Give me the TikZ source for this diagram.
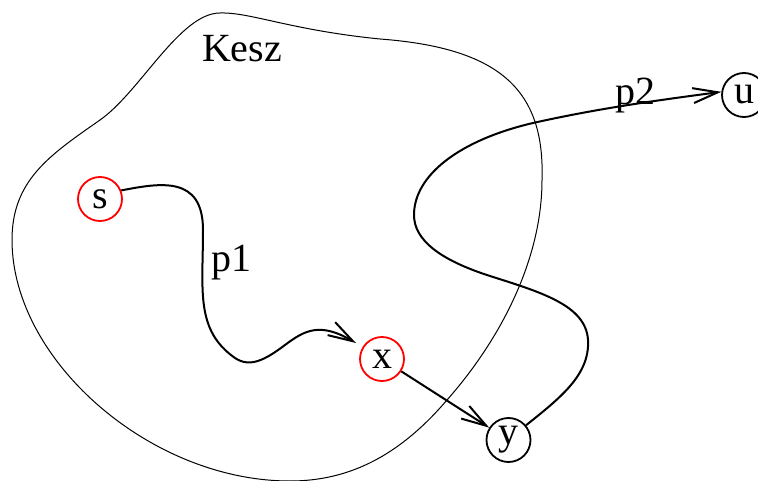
\documentclass[tikz,border=0pt]{standalone}
\usepackage{fontspec}
\setmainfont{Liberation Serif}
\usetikzlibrary{arrows.meta}
\begin{document}
\begin{tikzpicture}[x=1pt,y=-1pt,
  vert/.style={circle,draw,line width=1.8pt,minimum size=44pt,inner sep=0pt,font=\fontsize{40}{48}\selectfont},
  redvert/.style={vert,draw=red},
  lbl/.style={anchor=base,inner sep=0pt,font=\fontsize{40}{48}\selectfont},
  pathline/.style={line width=2pt,-{Straight Barb[length=25pt,width=15pt]}},
  blob/.style={line width=1pt}]
\useasboundingbox (0,0) rectangle (758,481);
\draw[blob] (220,13) .. controls (250,12) and (290,30) .. (380,39)
  .. controls (500,48) and (545,90) .. (542,180)
  .. controls (542,260) and (500,340) .. (447,400)
  .. controls (400,455) and (350,481) .. (290,481)
  .. controls (150,481) and (12,360) .. (12,240)
  .. controls (12,180) and (50,155) .. (100,120)
  .. controls (140,92) and (180,13) .. (220,13) -- cycle;
\node[lbl] (kesz) at (242,62) {Kesz};
\node[redvert] (s) at (100,199) {s};
\node[redvert] (x) at (382,359) {x};
\node[vert] (y) at (508.5,440) {y};
\node[vert] (u) at (744,95) {u};
\coordinate (p1end) at (356,343);
\draw[pathline] (s.22) .. controls (160,183) and (203,175) .. (203,230)
  .. controls (203,290) and (195,330) .. (235,358)
  .. controls (250,368) and (265,360) .. (285,345)
  .. controls (305,330) and (320,322) .. (p1end);
\draw[pathline] (x) -- (y);
\draw[pathline] (y.40) .. controls (560,398) and (590,375) .. (588,340)
  .. controls (586,305) and (540,292) .. (490,276)
  .. controls (440,260) and (414,240) .. (414,215)
  .. controls (414,175) and (460,140) .. (533,123)
  .. controls (600,108) and (660,100) .. (u.172);
\node[lbl] (p1) at (231,272) {p1};
\node[lbl] (p2) at (635,105) {p2};
\end{tikzpicture}
\end{document}
